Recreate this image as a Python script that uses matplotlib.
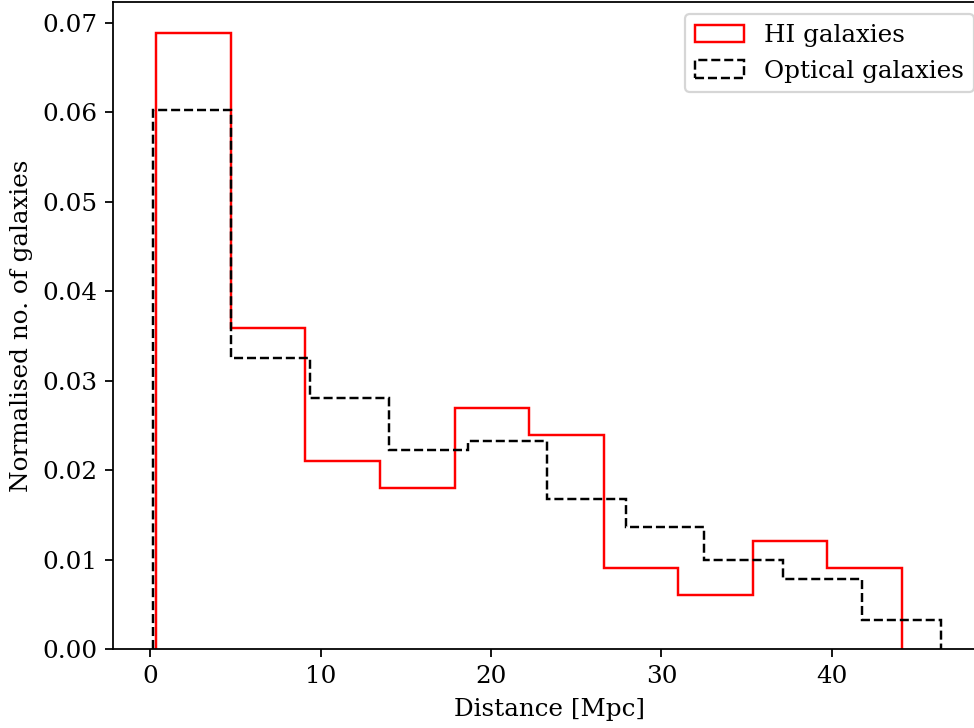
import matplotlib
matplotlib.use("Agg")
import matplotlib.pyplot as plt
import numpy as np

# bin edges and normalised counts
hi_edges = [0.35, 4.73, 9.10, 13.48, 17.85, 22.23, 26.60, 30.98, 35.35, 39.73, 44.10]
hi_counts = [0.0688, 0.0359, 0.0210, 0.0180, 0.0269, 0.0239, 0.0090, 0.0060, 0.0121, 0.0090]

opt_edges = [0.12, 4.75, 9.38, 14.00, 18.63, 23.26, 27.89, 32.52, 37.14, 41.77, 46.40]
opt_counts = [0.0602, 0.0325, 0.0281, 0.0222, 0.0232, 0.0168, 0.0136, 0.0100, 0.0078, 0.0032]

plt.rcParams["font.family"] = "DejaVu Serif"
plt.rcParams["font.size"] = 11.1

fig = plt.figure(figsize=(974 / 160, 728 / 160), dpi=160)
ax = fig.add_axes([113 / 974, 79 / 728, (986 - 113) / 974, (649 - 2) / 728])

# step histograms from bin edges + weights (one weight per bin)
ax.hist(hi_edges[:-1], bins=hi_edges, weights=hi_counts, histtype="step",
        color="red", linewidth=1.1, label="HI galaxies")
ax.hist(opt_edges[:-1], bins=opt_edges, weights=opt_counts, histtype="step",
        color="black", linestyle="--", linewidth=1.1, label="Optical galaxies")

ax.set_xlim(-2.2, 49.05)
ax.set_ylim(0, 0.0723)
ax.set_xlabel("Distance [Mpc]", labelpad=4.5)
ax.set_ylabel("Normalised no. of galaxies")
ax.legend(loc="upper right")

fig.savefig("out.png", dpi=160)
